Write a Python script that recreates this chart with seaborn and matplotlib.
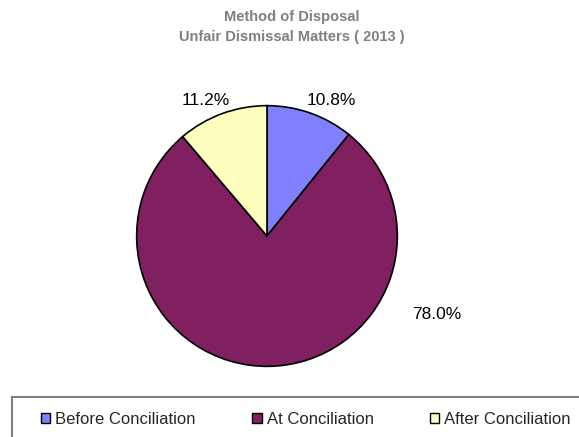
import matplotlib
matplotlib.use("Agg")
import matplotlib.pyplot as plt
from matplotlib.patches import Patch, Rectangle
import seaborn as sns

# Disposal categories and their shares (%)
categories = ["Before Conciliation", "At Conciliation", "After Conciliation"]
shares = [10.8, 78.0, 11.2]
colors = ["#8080FF", "#802060", "#FFFFC0"]
title_lines = ["Method of Disposal", "Unfair Dismissal Matters ( 2013 )"]

# label anchor points in pie-radius units
label_pos = [(0.49, 1.04), (1.30, -0.60), (-0.47, 1.04)]

sns.set_theme(style="white")
plt.rcParams["font.family"] = ["Liberation Sans", "DejaVu Sans"]

fig = plt.figure(figsize=(5.79, 4.37), dpi=100)
fig.patch.set_facecolor("white")

ax = fig.add_axes([136 / 579, 70 / 437, 262 / 579, 262 / 437])
wedges, texts, autotexts = ax.pie(
    shares,
    colors=colors,
    startangle=90,
    counterclock=False,
    autopct="%.1f%%",
    wedgeprops=dict(edgecolor="black", linewidth=1.2),
    textprops=dict(fontsize=12.5, color="black"),
)
for t, (x, y) in zip(autotexts, label_pos):
    t.set_position((x, y))
    t.set_ha("center")
    t.set_va("center")
    t.set_clip_on(False)
ax.set_xlim(-1.005, 1.005)
ax.set_ylim(-1.005, 1.005)
ax.set_aspect("equal")
ax.axis("off")

fig.text(292 / 579, 1 - 17 / 437, title_lines[0], ha="center", va="center",
         fontsize=10.5, fontweight="bold", color="#808080")
fig.text(292 / 579, 1 - 37 / 437, title_lines[1], ha="center", va="center",
         fontsize=10.5, fontweight="bold", color="#808080")

# legend frame running past the lower right edge
fig.patches.append(Rectangle((12 / 579, -0.05), 1.0, (437 - 397) / 437 + 0.05,
                             transform=fig.transFigure, facecolor="white",
                             edgecolor="#808080", linewidth=1.5, zorder=0))
handles = [Patch(facecolor=c, edgecolor="black", linewidth=1.0) for c in colors]
fig.legend(handles, categories, loc="center", bbox_to_anchor=(306 / 579, 1 - 419 / 437),
           ncol=3, frameon=False, fontsize=12, handlelength=0.55, handleheight=0.55,
           handletextpad=0.3, columnspacing=3.4, borderpad=0)

fig.savefig("out.png", dpi=100, facecolor="white")
